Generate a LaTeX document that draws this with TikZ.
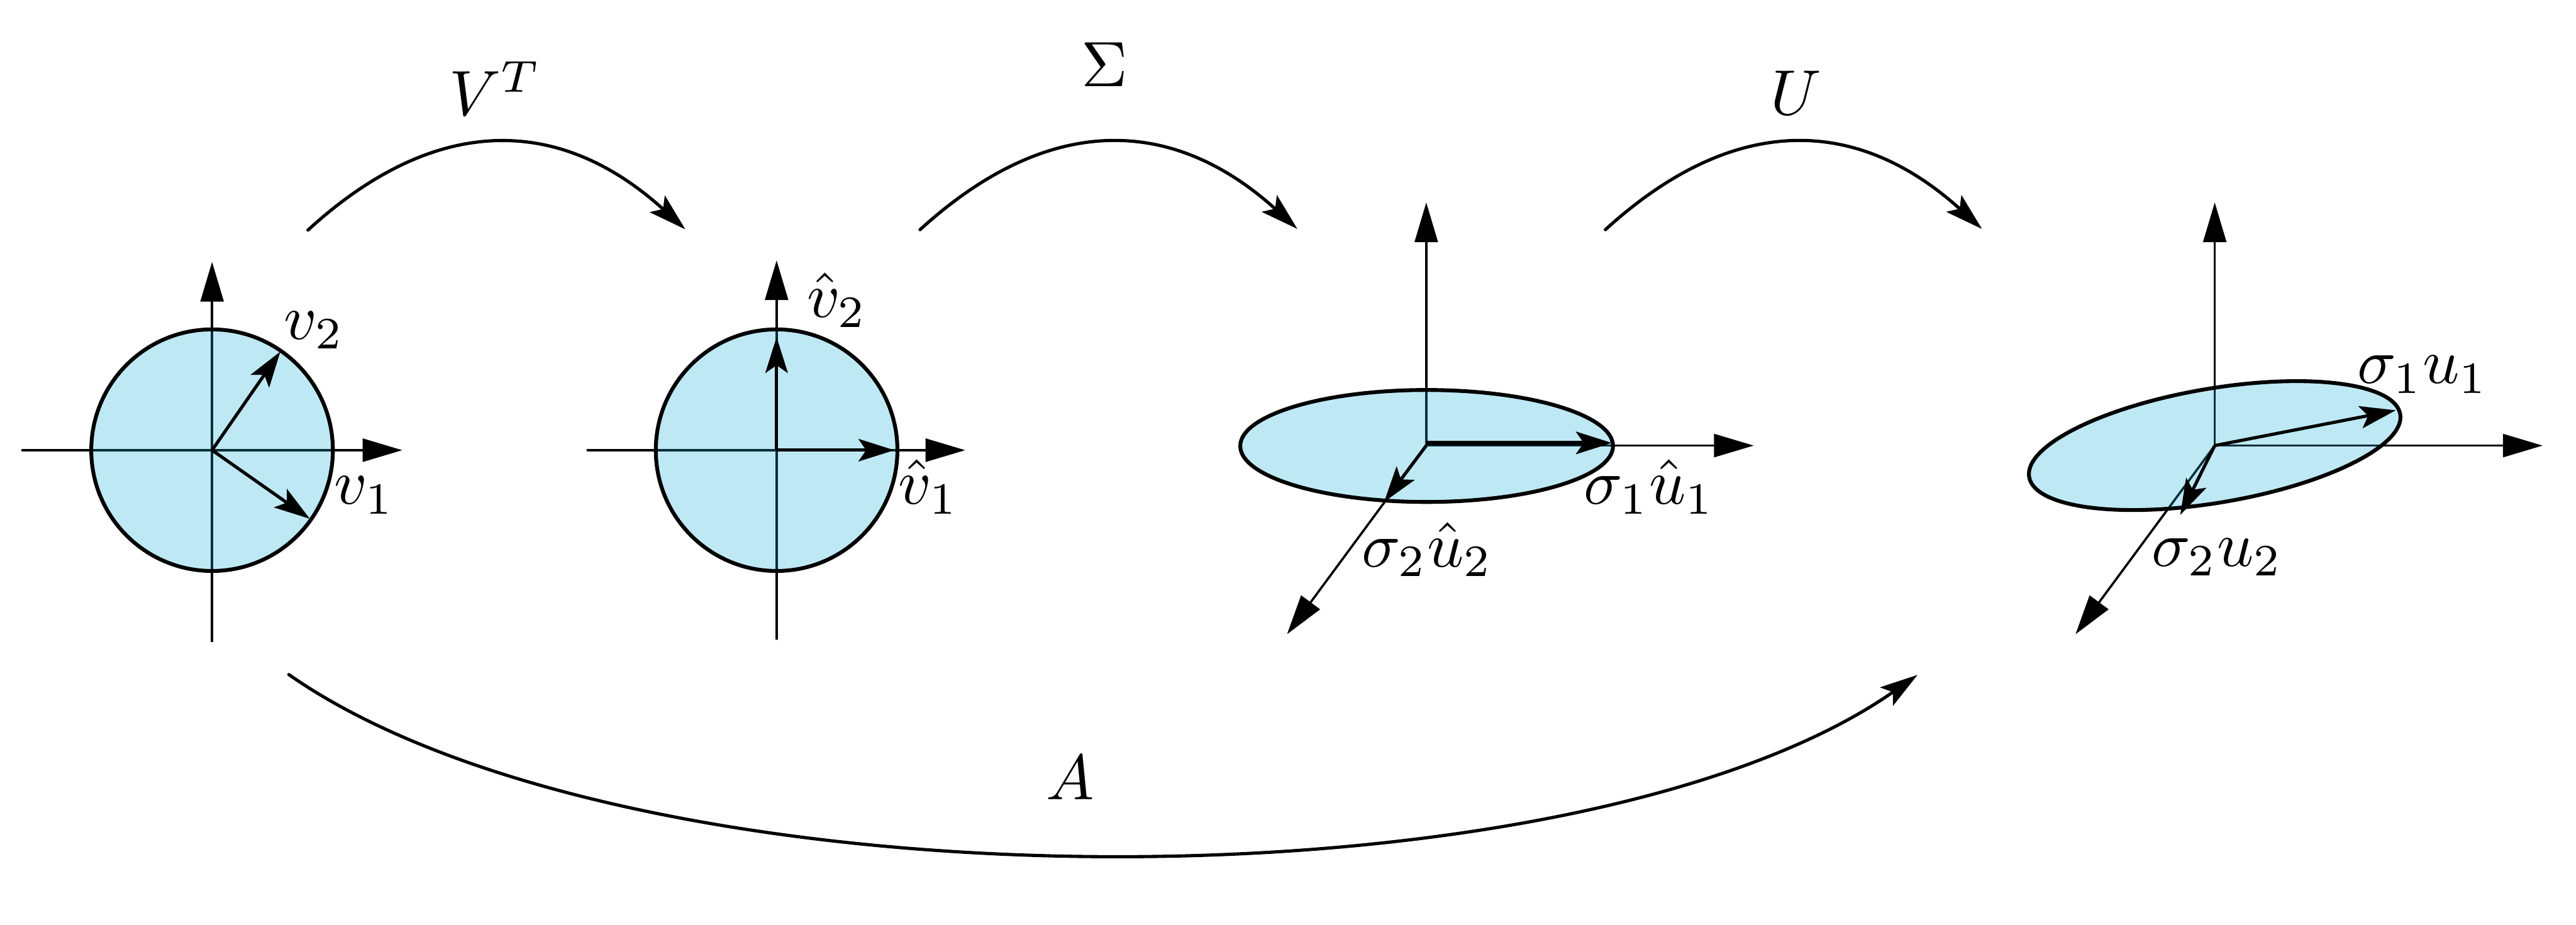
\documentclass[tikz,border=0pt]{standalone}
\usetikzlibrary{arrows.meta}
\definecolor{blobc}{RGB}{14,173,214}
\begin{document}
\begin{tikzpicture}[x=0.2105cm,y=-0.2105cm,
  axis/.style={line width=0.35pt, line cap=round, -{Triangle[length=6.2pt,width=3.6pt]}},
  vec/.style={line width=0.5pt, -{Stealth[length=5.6pt,width=3.5pt,inset=1.2pt]}},
  thickvec/.style={line width=0.65pt, -{Stealth[length=5.6pt,width=3.5pt,inset=1.2pt]}},
  bendarrow/.style={line width=0.5pt, line cap=round, -{Stealth[length=5.9pt,width=3.5pt,inset=1.2pt]}},
  blob/.style={fill=blobc, fill opacity=0.27},
  rim/.style={line width=0.6pt},
  lab/.style={inner sep=0pt, anchor=base}]
\useasboundingbox (0,0) rectangle (67.17,24.12);

% ---------- coordinates ----------
\coordinate (O1) at (5.53,11.74);
\coordinate (O2) at (20.25,11.74);
\coordinate (O3) at (37.19,11.62);
\coordinate (E3) at (37.20,11.63);
\coordinate (O4) at (57.75,11.62);

\coordinate (h1a) at (0.58,11.74);  \coordinate (h1b) at (10.49,11.74);
\coordinate (v1a) at (5.53,16.72);  \coordinate (v1b) at (5.53,6.83);
\coordinate (t1) at (8.08,13.53);   \coordinate (t2) at (7.31,9.17);

\coordinate (h2a) at (15.32,11.74); \coordinate (h2b) at (25.17,11.74);
\coordinate (v2a) at (20.25,16.66); \coordinate (v2b) at (20.25,6.79);
\coordinate (th1) at (23.32,11.74); \coordinate (th2) at (20.25,8.79);

\coordinate (up3) at (37.19,5.28);  \coordinate (rt3) at (45.73,11.62);
\coordinate (dg3) at (33.56,16.54);
\coordinate (s1a) at (37.19,11.55); \coordinate (s1b) at (42.03,11.55);
\coordinate (s2b) at (36.09,13.09);

\coordinate (up4) at (57.75,5.28);  \coordinate (rt4) at (66.30,11.62);
\coordinate (dg4) at (54.12,16.54);
\coordinate (u1b) at (62.47,10.70); \coordinate (u2b) at (56.85,13.43);

% arcs
\coordinate (a1s) at (8.03,6.00);  \coordinate (a1c) at (11.33,2.98);
\coordinate (a1d) at (14.57,2.98); \coordinate (a1e) at (17.87,5.98);
\coordinate (a2s) at (23.99,5.99); \coordinate (a2c) at (27.29,2.98);
\coordinate (a2d) at (30.53,2.98); \coordinate (a2e) at (33.83,5.97);
\coordinate (a3s) at (41.86,5.99); \coordinate (a3c) at (45.16,2.98);
\coordinate (a3d) at (48.38,2.98); \coordinate (a3e) at (51.68,5.97);
\coordinate (bs) at (7.53,17.59);  \coordinate (bc) at (16.47,23.85);
\coordinate (bd) at (41.06,23.85); \coordinate (be) at (50.00,17.60);

% ---------- circle 1 ----------
\draw[axis] (h1a) -- (h1b);
\draw[axis] (v1a) -- (v1b);
\fill[blob] (O1) circle (3.15);
\draw[rim] (O1) circle (3.15);
\draw[vec] (O1) -- (t1);
\draw[vec] (O1) -- (t2);
\node[lab] (lv2) at (8.19,8.84) {$v_2$};
\node[lab] (lv1) at (9.50,13.15) {$v_1$};

% ---------- circle 2 ----------
\draw[axis] (h2a) -- (h2b);
\draw[axis] (v2a) -- (v2b);
\fill[blob] (O2) circle (3.15);
\draw[rim] (O2) circle (3.15);
\draw[vec] (O2) -- (th1);
\draw[vec] (O2) -- (th2);
\node[lab] (lhv2) at (21.82,8.28) {$\hat{v}_2$};
\node[lab] (lhv1) at (24.21,13.15) {$\hat{v}_1$};

% ---------- ellipse 3 ----------
\draw[axis] (O3) -- (up3);
\draw[axis] (O3) -- (rt3);
\draw[axis] (O3) -- (dg3);
\fill[blob] (E3) ellipse [x radius=4.86, y radius=1.46];
\draw[rim] (E3) ellipse [x radius=4.86, y radius=1.46];
\draw[thickvec] (s1a) -- (s1b);
\draw[vec] (O3) -- (s2b);
\node[lab] (ls1) at (43.00,13.15) {$\sigma_1\hat{u}_1$};
\node[lab] (ls2) at (37.22,14.78) {$\sigma_2\hat{u}_2$};

% ---------- ellipse 4 ----------
\draw[axis] (O4) -- (up4);
\draw[axis] (O4) -- (rt4);
\draw[axis] (O4) -- (dg4);
\fill[blob, rotate around={9.6:(O4)}] (O4) ellipse [x radius=4.907, y radius=1.489];
\draw[rim, rotate around={9.6:(O4)}] (O4) ellipse [x radius=4.907, y radius=1.489];
\draw[vec] (O4) -- (u1b);
\draw[vec] (O4) -- (u2b);
\node[lab] (lu1) at (63.17,10.00) {$\sigma_1u_1$};
\node[lab] (lu2) at (57.81,14.77) {$\sigma_2u_2$};

% ---------- transformation arrows ----------
\draw[bendarrow] (a1s) .. controls (a1c) and (a1d) .. (a1e);
\draw[bendarrow] (a2s) .. controls (a2c) and (a2d) .. (a2e);
\draw[bendarrow] (a3s) .. controls (a3c) and (a3d) .. (a3e);
\draw[bendarrow] (bs) .. controls (bc) and (bd) .. (be);

\node[lab] (lVT) at (12.91,3.01) {$V^T$};
\node[lab] (lS) at (28.80,2.26) {$\Sigma$};
\node[lab] (lU) at (46.84,2.99) {$U$};
\node[lab] (lA) at (27.91,20.85) {$A$};
\end{tikzpicture}
\end{document}
